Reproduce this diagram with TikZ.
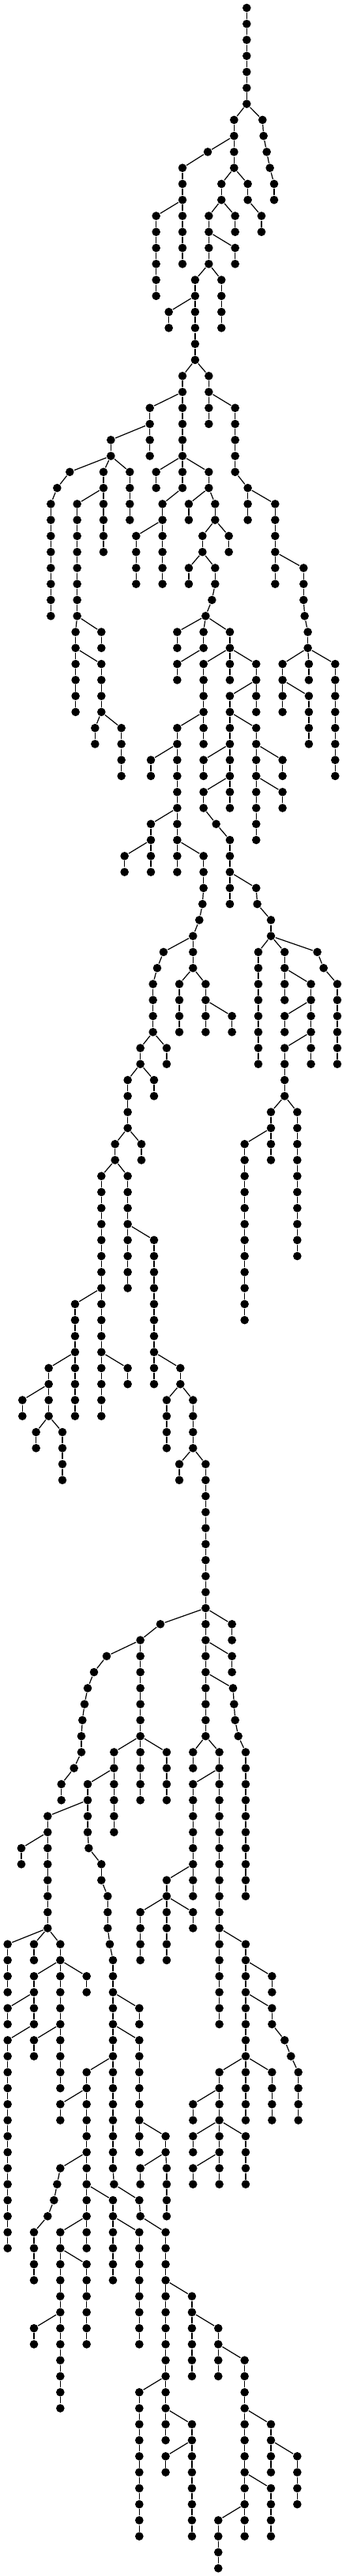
\documentclass[tikz,border=0pt]{standalone}
\usepackage{amsmath,amssymb}
\usepackage{xcolor}

\begin{document}
\begin{tikzpicture}[x=0.08333pt,y=-5.0675pt]
\tikzstyle{every node}+=[inner sep=0pt]
\tikzstyle{dot}=[circle,fill=black,minimum size=2.65pt]
\tikzstyle{edge}=[black,line width=0.3pt]
\useasboundingbox (0pt,2.5pt) rectangle (109.5pt,-813.25pt);
\node[dot] (root) at (937,0) {};
% branch name / parent / first level / x of each level
\foreach \b/\p/\s/\xs in {
A/root/1/{937,937,937,937,937,937,889,889,889,889,841,841,793,793,793,793,741,741,741,741,741,741,693,693,693,693,693,693,693,693,617,617,617,617,617,617},
B/A-6/7/{997,1001,1013,1025,1041,1041},
C/A-8/9/{789,693,693,693,693,693,693,693},
D/C-12/13/{593,593,593,593,593,593},
E/A-10/11/{941,941,993,993},
F/A-12/13/{893,893},
G/A-14/15/{893,893},
H/A-16/17/{841,841,841,841},
I/A-18/19/{641,641},
J/A-22/23/{793,793,893,893,893,893,893,941,1045,1045,1045,1045,1045,1045},
K/J-24/25/{793,793},
L/J-30/31/{941,941},
M/J-34/35/{1153,1153,1153,1157,1169,1169,1273,1273,1273,1273,1273,1273,1273,1273},
N/M-40/41/{1073,1073,1073,1073},
O/M-40/41/{1173,1173},
P/N-42/43/{1173,1173,1173,1173},
Q/A-24/25/{569,569,569,569},
R/Q-26/27/{421,421,265,217,193,193,193,193,193,193,193,193},
S/R-28/29/{393,393,393,393,393,393},
T/S-30/31/{293,293,293,293,293,293,293,293,287,287,287,287,287,287},
U/T-38/39/{385,385},
V/T-40/41/{385,385,385,385,461,461,461,461},
W/V-44/45/{361,361},
X/R-28/29/{493,493,493,493},
Y/A-28/29/{593,593},
Z/A-28/29/{793,793,817,817,769,769,817,817,805,781,873,873,873,873},
ZA/A-32/33/{517,517,517,517},
ZB/Z-30/31/{717,717},
ZC/Z-32/33/{869,869},
ZD/Z-34/35/{717,717},
BA/Z-38/39/{673,673},
BB/Z-38/39/{773,773,673,673},
BC/Z-40/41/{773,773,773,773,673,673,673,673,673,673,673,673,773,773,773,769,757,733,621,597,581,581,581,581,533,533,485,485,485,485,437,437,385,385,385,385,385,385,385,385,385,385,385,385,385,385,385,385},
BD/BC-44/45/{773,773},
BE/BC-46/47/{573,573},
BF/BC-50/51/{573,573,573,573},
BG/BF-52/53/{473,473},
BH/BC-52/53/{673,673},
BI/BC-58/59/{733,733,781,781,781,781},
BJ/BI-60/61/{681,681,681,681},
BK/BI-62/63/{881,881},
BL/BC-64/65/{633,633},
BM/BC-66/67/{585,585},
BN/BC-70/71/{537,537},
BO/BC-72/73/{485,485,485,485,485,485,485,485},
BP/BO-76/77/{585,585,585,585,585,585,585,585,685,685,733,733,733,733,781,781,781,781,781,781,781,781,781,781,781,781,781,781,781,781,781,781,833,833,833,833,833,833,833,833,833,833,833,833,833,833,833,833,833,833},
BQ/BP-84/85/{585,585},
BR/BP-86/87/{633,633,633,633},
BS/BP-90/91/{681,681},
BT/BP-100/101/{881,881},
BU/BP-100/101/{609,533,533,533,533,533,533,533,533,533,533,533},
BV/BU-102/103/{405,357,333,321,313,309,309,281,233,233},
BW/BU-108/109/{433,433,433,433,433,433},
BX/BU-108/109/{633,633,633,633},
BY/BW-110/111/{333,333,333,333,337,385,385,409,409,409,417,429,429,429,429,429,429,429,429,429,429,429,429,429,429,433,529,533,629,629,629,629,629,629,629,629,629,629,629,629,629,629},
CV/BY-112/113/{181,181,181,181,181,181,181,181,229,229,229,229,229,229,229,229,229,229},
CW/CV-114/115/{81,81},
CX/CV-120/121/{29,29,29,29},
CY/CV-120/121/{129,129},
CZ/CV-122/123/{329,329},
DA/CV-122/123/{129,129,129,129},
DB/DA-124/125/{29,29},
DC/DA-126/127/{29,29,29,29,29,29,29,29,29,29,29,29,29,29},
DD/CV-126/127/{129,129},
BZ/BY-124/125/{529,529},
CA/BY-126/127/{529,529,529,529,529,529,529,529},
CB/CA-132/133/{629,629,633,633,633,633},
CC/CB-134/135/{533,533},
CD/BY-128/129/{329,329,329,329,329,329,329,329,329,329,329,329},
CE/CD-130/131/{229,229},
CF/CD-134/135/{229,217,205,181,129,129,129,129},
CG/CD-136/137/{429,429,429,429,429,429},
CH/CG-138/139/{529,529,529,529,529,529,529,529},
CI/CD-138/139/{229,229,229,229,229,229,229,229,229,229,229,229},
CJ/CI-140/141/{329,329,329,329,329,329},
CK/CI-144/145/{129,129},
CL/BY-142/143/{729,729,729,729,729,729},
CM/CL-144/145/{829,829,929,929,929,929,929,929,929,929,929,929,929,929},
CN/CM-146/147/{829,829},
CO/CM-150/151/{1029,1029,1029,1029},
CP/CO-152/153/{1129,1129,1129,1129},
CQ/CM-154/155/{1029,1029,1029,1029},
CR/CM-156/157/{829,829,829,829},
CS/BY-148/149/{529,529,529,529,529,529,529,529,529,529},
CT/BY-150/151/{729,729,729,729,729,729,729,729},
CU/CT-152/153/{629,629},
DE/BP-102/103/{881,881},
DF/BP-104/105/{885,889,893,905,933,933,933,933,933,933,933,933,933,933},
DG/BP-108/109/{733,733},
DH/BP-110/111/{733,733,733,733,733,733,733,733},
DI/DH-116/117/{633,633,633,633,633,633},
DJ/DI-118/119/{533,533,533,533},
DK/DI-118/119/{733,733},
DL/BP-120/121/{933,933,933,933,933,933,933,933,933,933,933,933},
DM/DL-122/123/{1033,1033},
DN/DL-124/125/{1033,1033,1081,1105,1133,1133,1133,1133},
DO/DL-128/129/{833,833,833,833,833,833,833,833},
DP/DO-130/131/{733,733},
DQ/DO-132/133/{733,733},
DR/DO-132/133/{933,933,933,933},
DS/DO-134/135/{733,733},
DT/DL-128/129/{1033,1033,1033,1033},
DU/BC-80/81/{285,285,285,285,285,285,285,285},
DV/BC-84/85/{485,485},
DW/DU-84/85/{185,185,185,185,237,237,237,237},
DX/DW-86/87/{85,85},
DY/DW-88/89/{137,137},
DZ/Z-40/41/{973,973,973,973},
EA/DZ-42/43/{873,873,873,873,873,873,873,873},
EB/EA-44/45/{973,973,973,973,973,973,973,973},
EC/EB-46/47/{1073,1073},
ED/EB-48/49/{1073,1073},
EE/EA-46/47/{773,773},
EF/EA-48/49/{773,773,821,873,873,873,873,873},
EG/EF-54/55/{973,977,1029,1029,1081,1081,1181,1181,1181,1181,1081,1081,1081,1081,1129,1129,1129,1129,1129,1129,1129,1129,1129,1129},
EH/EG-58/59/{981,981,981,981,981,981,981,981},
EI/EG-58/59/{1205,1229,1281,1281,1281,1281,1281,1281},
EJ/EG-60/61/{1081,1081},
EK/EG-62/63/{1081,1081},
EL/EG-64/65/{1181,1181},
EM/EG-68/69/{1029,1029,1029,1029},
EN/EM-70/71/{929,929,929,929,929,929,929,929,929,929,929,929}}{
  \xdef\prev{\p}
  \foreach \x [count=\i from 0] in \xs {
    \pgfmathtruncatemacro\lv{\s+\i}
    \node[dot] (\b-\lv) at (\x,\lv) {};
    \draw [edge] (\prev) -- (\b-\lv);
    \xdef\prev{\b-\lv}
  }
}
\end{tikzpicture}
\end{document}
